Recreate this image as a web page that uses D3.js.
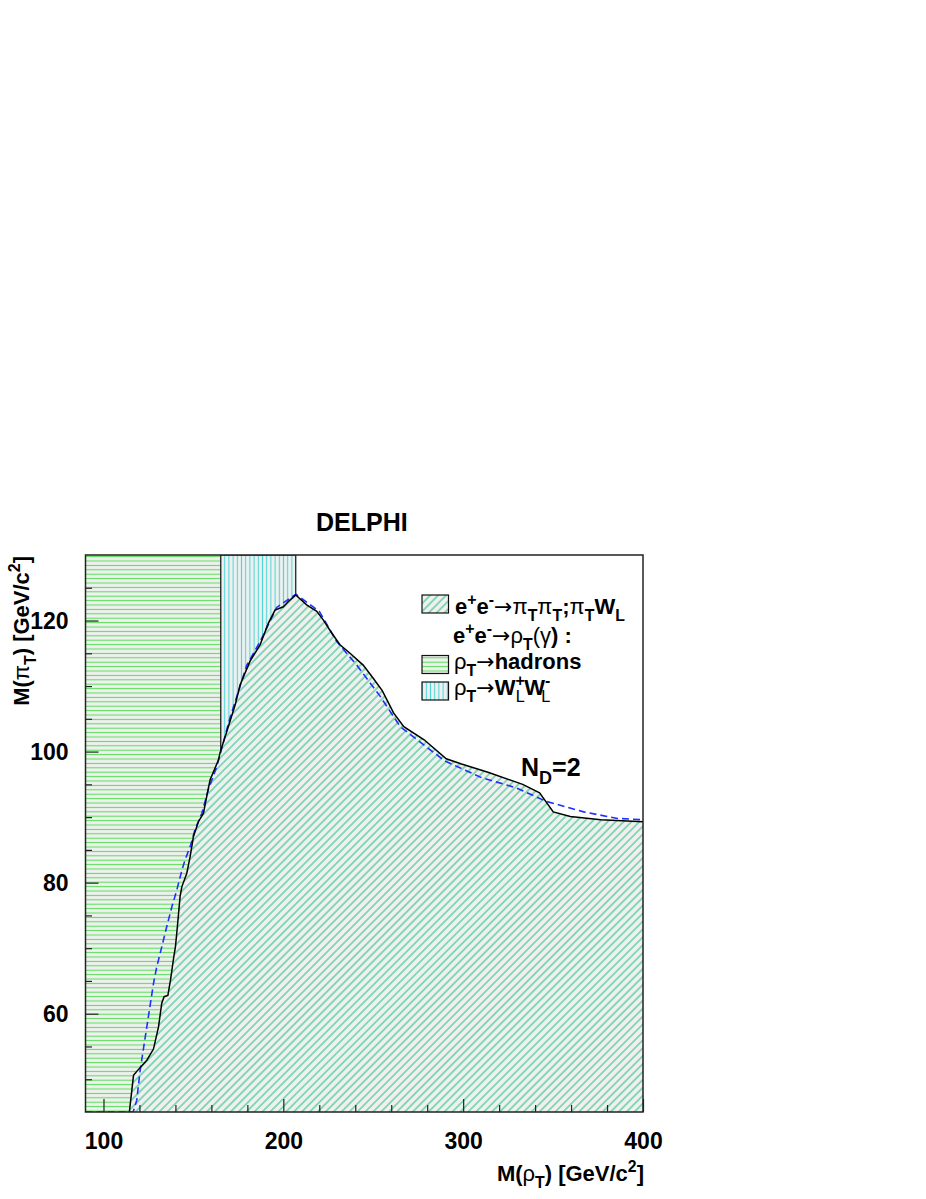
<!DOCTYPE html>
<html>
<head>
<meta charset="utf-8">
<script src="https://cdn.jsdelivr.net/npm/d3@7"></script>
<style>
  body { margin: 0; background: #fff; }
  text { font-family: "Liberation Sans", Arial, sans-serif; font-weight: bold; fill: #000; }
</style>
</head>
<body>
<div id="chart-area"></div>
<script>
// axis ticks
var xMajor = [100, 200, 300, 400];
var xMinor = [120, 140, 160, 180, 220, 240, 260, 280, 320, 340, 360, 380];
var yMajor = [60, 80, 100, 120];
var yMinor = [50, 55, 65, 70, 75, 85, 90, 95, 105, 110, 115, 125];

// excluded bands in M(rho_T)
var hadronsBand = [90, 165.2];
var wwBand = [165.2, 206.9];

// observed limit, e+e- -> pi_T pi_T ; pi_T W_L  (M(rho_T), M(pi_T))
var observed = [
    [114.4, 45], [116.7, 50.6], [118.5, 51.2], [124.1, 52.9], [127.8, 54.6],
    [130.6, 58.0], [132.4, 61.6], [133.7, 62.6], [135.8, 62.8], [137.3, 65.2],
    [139.0, 68.5], [140.0, 70.2], [141.1, 73.3], [142.6, 77.9], [143.6, 79.4],
    [146.3, 81.4], [148.2, 84.0], [150.0, 87.0], [152.8, 89.3], [155.6, 90.6],
    [157.8, 93.7], [159.3, 95.7], [163.9, 98.7], [164.8, 99.8], [169.4, 103.8],
    [173.2, 107.1], [176.0, 110.2], [181.5, 113.8], [187.1, 116.3], [191.7, 119.6],
    [195.4, 121.6], [200.0, 122.1], [202.8, 122.9], [206.9, 123.9], [213.0, 122.4],
    [218.6, 121.4], [222.2, 120.1], [226.9, 118.1], [231.5, 116.3], [237.1, 115.0],
    [244.4, 113.2], [250.0, 111.2], [255.0, 109.3], [261.3, 105.9], [267.0, 103.8],
    [278.3, 101.8], [290.6, 98.9], [299.1, 98.1], [314.2, 96.8], [333.1, 95.0],
    [342.5, 93.7], [350.1, 90.8], [359.6, 90.1], [376.5, 89.6], [400, 89.3]
];

// expected limit (dashed)
var expected = [
    [90, 45], [116.5, 45], [118.5, 46.8], [120.4, 51.4], [124.1, 58.0],
    [127.8, 64.6], [129.5, 67.0], [132.4, 70.2], [135.2, 73.3], [138.0, 76.3],
    [140.8, 78.9], [143.6, 81.9], [145.4, 83.5], [148.2, 85.5], [150.9, 88.1],
    [154.7, 90.6], [158.3, 94.2], [163.0, 97.7], [170.4, 105.2], [179.7, 113.2],
    [187.1, 116.8], [196.3, 122.0], [207.0, 124.0], [220.0, 121.4], [229.7, 116.8],
    [240.8, 113.2], [253.7, 108.5], [265.0, 103.8], [289.6, 98.6], [310.4, 96.0],
    [329.2, 94.5], [346.2, 92.4], [367.0, 90.8], [385.9, 89.8], [400, 89.6]
];

var W = 926, H = 1199;
var plotL = 85.5, plotR = 643, plotT = 555, plotB = 1112;

var svg = d3.select("#chart-area").append("svg")
    .attr("width", W)
    .attr("height", H);

var x = d3.scaleLinear().domain([90, 400]).range([plotL, plotR]);
var y = d3.scaleLinear().domain([45, 130]).range([plotB, plotT]);

var defs = svg.append("defs");

function hatch(id, spacing, angle, color, width) {
    var p = defs.append("pattern")
        .attr("id", id)
        .attr("patternUnits", "userSpaceOnUse")
        .attr("width", spacing)
        .attr("height", spacing)
        .attr("patternTransform", "rotate(" + angle + ")");
    p.append("rect").attr("width", spacing).attr("height", spacing).attr("fill", "#f0f0f0");
    p.append("line")
        .attr("x1", spacing / 2).attr("x2", spacing / 2)
        .attr("y1", 0).attr("y2", spacing)
        .attr("stroke", color)
        .attr("stroke-width", width);
}
hatch("hatchH", 4.4, 90, "#5cdf5c", 1.1);
hatch("hatchV", 4.2, 0, "#4fd6d6", 1.1);
hatch("hatchD", 5.6, 45, "#4fcc96", 1.3);

defs.append("clipPath").attr("id", "plotClip")
    .append("rect")
    .attr("x", plotL).attr("y", plotT)
    .attr("width", plotR - plotL).attr("height", plotB - plotT);

var plot = svg.append("g").attr("clip-path", "url(#plotClip)");

// rho_T -> hadrons
plot.append("rect")
    .attr("x", x(hadronsBand[0]))
    .attr("y", y(130))
    .attr("width", x(hadronsBand[1]) - x(hadronsBand[0]))
    .attr("height", y(45) - y(130))
    .attr("fill", "url(#hatchH)");

// rho_T -> W_L W_L
plot.append("rect")
    .attr("x", x(wwBand[0]))
    .attr("y", y(130))
    .attr("width", x(wwBand[1]) - x(wwBand[0]))
    .attr("height", y(45) - y(130))
    .attr("fill", "url(#hatchV)")
    .attr("stroke", "#222")
    .attr("stroke-width", 1.3);

// pi_T pi_T region
var area = d3.area()
    .x(function(d){ return x(d[0]); })
    .y0(y(45))
    .y1(function(d){ return y(d[1]); });

plot.append("path")
    .datum(observed)
    .attr("d", area)
    .attr("fill", "#f0f0f0");
plot.append("path")
    .datum(observed)
    .attr("d", area)
    .attr("fill", "url(#hatchD)");

var line = d3.line()
    .x(function(d){ return x(d[0]); })
    .y(function(d){ return y(d[1]); });

plot.append("path")
    .datum(expected)
    .attr("d", line)
    .attr("fill", "none")
    .attr("stroke", "#1f2fff")
    .attr("stroke-width", 1.6)
    .attr("stroke-dasharray", "7,4");

plot.append("path")
    .datum(observed)
    .attr("d", line)
    .attr("fill", "none")
    .attr("stroke", "#000")
    .attr("stroke-width", 1.5);

// frame
svg.append("rect")
    .attr("x", plotL).attr("y", plotT)
    .attr("width", plotR - plotL).attr("height", plotB - plotT)
    .attr("fill", "none")
    .attr("stroke", "#222")
    .attr("stroke-width", 1.5);

// axes
var xAxis = svg.append("g")
    .attr("transform", "translate(0," + plotB + ")")
    .call(d3.axisBottom(x).tickValues(xMajor).tickSize(-13).tickFormat(d3.format("d")));
svg.append("g")
    .attr("transform", "translate(0," + plotB + ")")
    .call(d3.axisBottom(x).tickValues(xMinor).tickSize(-7).tickFormat(""));

var yAxis = svg.append("g")
    .attr("transform", "translate(" + plotL + ",0)")
    .call(d3.axisLeft(y).tickValues(yMajor).tickSize(-13).tickFormat(d3.format("d")));
svg.append("g")
    .attr("transform", "translate(" + plotL + ",0)")
    .call(d3.axisLeft(y).tickValues(yMinor).tickSize(-6.5).tickFormat(""));

svg.selectAll(".domain").remove();
svg.selectAll(".tick line").attr("stroke", "#222").attr("stroke-width", 1.2);

xAxis.selectAll("text")
    .attr("y", 37).attr("dy", 0)
    .style("font-size", "23px")
    .style("font-family", "Liberation Sans, Arial, sans-serif")
    .style("font-weight", "bold");
yAxis.selectAll("text")
    .attr("x", -17).attr("dy", "0.36em")
    .style("font-size", "23px")
    .style("font-family", "Liberation Sans, Arial, sans-serif")
    .style("font-weight", "bold");

// rich text: [text, kind] with kind containing g (greek, normal weight), a (arrow), sub, sup, back
function rich(sel, parts, size) {
    var cur = 0;
    parts.forEach(function(p){
        var kind = p[1] || "";
        var off = 0, fs = size;
        if (kind.indexOf("sub") >= 0) { off = 0.32 * size; fs = 0.72 * size; }
        if (kind.indexOf("sup") >= 0) { off = -0.42 * size; fs = 0.72 * size; }
        var ts = sel.append("tspan")
            .text(p[0])
            .attr("dy", off - cur)
            .style("font-size", fs + "px")
            .style("font-weight", kind.indexOf("g") >= 0 || kind.indexOf("a") >= 0 ? "normal" : "bold");
        if (kind.indexOf("a") >= 0) ts.style("font-family", "DejaVu Sans");
        if (kind.indexOf("back") >= 0) ts.attr("dx", -0.42 * size);
        cur = off;
    });
    return sel;
}

// title
svg.append("text")
    .attr("x", 316).attr("y", 531)
    .style("font-size", "25px")
    .text("DELPHI");

// axis titles
rich(svg.append("text")
    .attr("x", 644).attr("y", 1181)
    .attr("text-anchor", "end"),
    [["M("], ["\u03c1", "g"], ["T", "sub"], [") [GeV/c"], ["2", "sup"], ["]"]], 22);

rich(svg.append("text")
    .attr("transform", "translate(29,556) rotate(-90)")
    .attr("text-anchor", "end"),
    [["M("], ["\u03c0", "g"], ["T", "sub"], [") [GeV/c"], ["2", "sup"], ["]"]], 22);

// N_D = 2
rich(svg.append("text").attr("x", 521).attr("y", 776),
    [["N"], ["D", "sub"], ["=2"]], 25);

// legend
var legendBoxes = [
    { y: 595, fill: "url(#hatchD)" },
    { y: 655.5, fill: "url(#hatchH)" },
    { y: 682, fill: "url(#hatchV)" }
];
svg.selectAll(".legbox")
    .data(legendBoxes)
    .enter()
    .append("rect")
    .attr("class", "legbox")
    .attr("x", 422).attr("y", function(d){ return d.y; })
    .attr("width", 26.5).attr("height", 18)
    .attr("fill", function(d){ return d.fill; })
    .attr("stroke", "#111")
    .attr("stroke-width", 1.2);

var ls = 22;
rich(svg.append("text").attr("x", 455).attr("y", 614),
    [["e"], ["+", "sup"], ["e"], ["-", "sup"], ["\u2192", "a"], ["\u03c0", "g"], ["T", "sub"],
     ["\u03c0", "g"], ["T", "sub"], [";"], ["\u03c0", "g"], ["T", "sub"], ["W"], ["L", "sub"]], ls);
rich(svg.append("text").attr("x", 453).attr("y", 643),
    [["e"], ["+", "sup"], ["e"], ["-", "sup"], ["\u2192", "a"], ["\u03c1", "g"], ["T", "sub"],
     ["(", "g"], ["\u03b3", "g"], [")"], [" :"]], ls);
rich(svg.append("text").attr("x", 454).attr("y", 669),
    [["\u03c1", "g"], ["T", "sub"], ["\u2192", "a"], ["hadrons"]], ls);
rich(svg.append("text").attr("x", 454).attr("y", 695),
    [["\u03c1", "g"], ["T", "sub"], ["\u2192", "a"], ["W"], ["+", "sup"], ["L", "sub back"],
     ["W"], ["-", "sup"], ["L", "sub back"]], ls);
</script>
</body>
</html>
